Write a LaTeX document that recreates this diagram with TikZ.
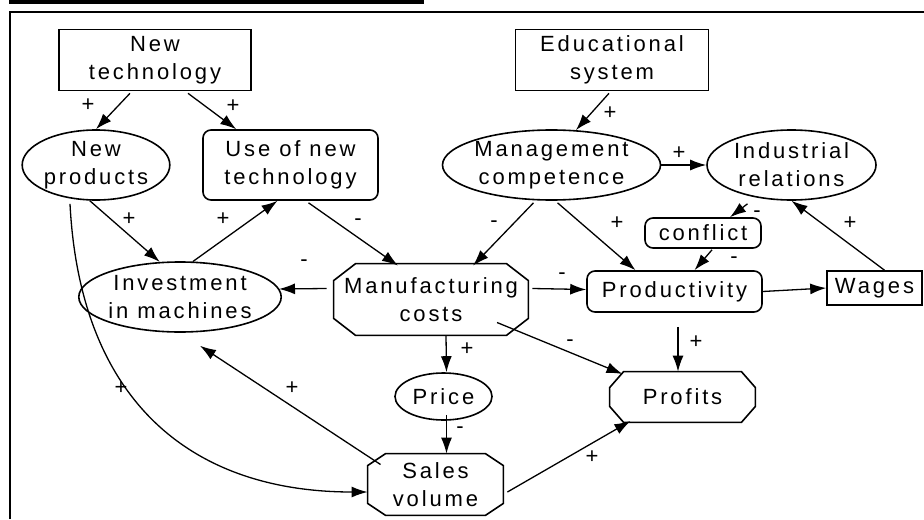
\documentclass[tikz,border=0pt]{standalone}
\usepackage{fontspec}
\setmainfont{Liberation Sans}[LetterSpace=13]
\usetikzlibrary{arrows.meta,shapes.geometric,calc}

\begin{document}
\begin{tikzpicture}
[x=.5pt,y=-.5pt,
every node/.style={font=\fontsize{11}{14}\selectfont,align=center,inner sep=0pt},
ext/.style={shape=rectangle,draw,line width=.8pt},
act/.style={shape=rectangle,draw,line width=.8pt,rounded corners=4pt},
var/.style={shape=ellipse,draw,line width=.8pt},
oct/.style={shape=rectangle},
octline/.style={line width=.8pt,line join=miter},
infl/.style={line width=.65pt,-{Latex[length=8pt,width=5.5pt]}},
sgn/.style={inner sep=0pt}]
\useasboundingbox (0,0) rectangle (924,519);
%%
% frame
%%
\fill (9,0) rectangle (424,4.5);
\draw[line width=1pt] (10,519) -- (10,12) -- (924,12);
%%
% factors
%%
\node[ext,minimum width=96pt,minimum height=30.5pt] (nt) at (155,60) {New\\technology};
\node[ext,minimum width=96.5pt,minimum height=30.5pt] (edu) at (612,60) {Educational\\system};
\node[var,minimum width=73pt,minimum height=35pt] (np) at (96,165) {New\\products};
\node[act,minimum width=87.5pt,minimum height=35pt] (unt) at (290.5,165) {Use of new\\technology};
\node[var,minimum width=108.5pt,minimum height=35pt] (mc) at (551.5,165) {Management\\competence};
\node[var,minimum width=84.5pt,minimum height=35pt] (ir) at (791.5,165) {Industrial\\relations};
\node[act,minimum width=58pt,minimum height=15pt] (cf) at (703,233) {conflict};
\node[var,minimum width=96.5pt,minimum height=35pt] (im) at (180,297) {Investment\\in machines};
\node[oct,minimum width=97pt,minimum height=35.5pt] (mfc) at (431,299.5) {Manufacturing\\costs};
\node[act,minimum width=87.5pt,minimum height=20.5pt] (pr) at (674.5,291.5) {Productivity};
\node[ext,minimum width=47.5pt,minimum height=17pt] (wg) at (874.5,288) {Wages};
\node[var,minimum width=48.5pt,minimum height=23.5pt] (price) at (443.5,396.5) {Price};
\node[oct,minimum width=72.5pt,minimum height=25pt] (pf) at (682.5,397) {Profits};
\node[oct,minimum width=67.5pt,minimum height=30.5pt] (sv) at (435.5,484.5) {Sales\\volume};
% octagon outlines, cut by cx/cy
\foreach \n/\cx/\cy in {mfc/22/17,pf/14/16,sv/18/12}
  \draw[octline] ($(\n.north west)+(\cx,0)$) -- ($(\n.north east)+(-\cx,0)$)
    -- ($(\n.north east)+(0,\cy)$) -- ($(\n.south east)+(0,-\cy)$)
    -- ($(\n.south east)+(-\cx,0)$) -- ($(\n.south west)+(\cx,0)$)
    -- ($(\n.south west)+(0,-\cy)$) -- ($(\n.north west)+(0,\cy)$) -- cycle;
%%
% influences
%%
\draw[infl] ($(nt.south)+(-25,2)$) -- (np.north);
\draw[infl] ($(nt.south)+(33,2)$) -- ($(unt.north west)+(34,0)$);
\draw[infl] ($(edu.south)+(-3,2)$) -- (mc.55);
\draw[infl] (np.260) -- (im.120);
\draw[infl] (im.70) -- ($(unt.south)+(-13,0)$);
\draw[infl] ($(unt.south)+(18,2)$) -- ($(mfc.north)+(-33,2)$);
\draw[infl] (mc.east) -- (ir.west);
\draw[infl] ($(mc.south)+(-18,2)$) -- ($(mfc.north)+(42,2)$);
\draw[infl] ($(mc.south)+(6,2)$) -- ($(pr.north)+(-39,0)$);
\draw[infl] ($(ir.south)+(-44,3)$) -- ($(cf.north)+(27,0)$);
\draw[infl] ($(cf.south)+(9,1)$) -- ($(pr.north)+(20,0)$);
\draw[infl] ($(wg.north)+(10,0)$) -- (ir.south);
\draw[infl] ($(mfc.west)+(-7,-11)$) -- ($(im.east)+(-3,-8)$);
\draw[infl] ($(mfc.east)+(4,-11)$) -- ($(pr.west)+(0,-2)$);
\draw[infl] (pr.east) -- (wg.west);
\draw[infl] ($(mfc.south)+(15,0)$) -- ($(price.north)+(3,0)$);
\draw[infl] ($(mfc.center)+(66,23)$) -- ($(pf.center)+(-60,-23)$);
\draw[infl] ($(pr.south)+(3.5,14)$) -- ($(pf.north)+(-4.5,0)$);
\draw[infl] ($(price.south)+(3,-6)$) -- ($(sv.north)+(11,0)$);
\draw[infl] ($(sv.center)+(-55,-20)$) -- ($(im.south)+(20,13)$);
\draw[infl] ($(np.south)+(-26,3)$) .. controls (80,400) and (190,492) .. ($(sv.west)+(0,7.5)$);
\draw[infl] ($(sv.east)+(4,7.5)$) -- ($(pf.center)+(-52,24)$);
%%
% signs
%%
\foreach \x/\y/\s [count=\i] in {88/105/+,233/106/+,129/219/+,223/219/+,358/222/-,
  610/113/+,679/153/+,494/224/-,617/223/+,757/214/-,734/260/-,850/223/+,
  304/263/-,562/276/-,467/349/+,570/343/-,696/342/+,460/430/-,
  292/388/+,121/388/+,592/457/+}
  \node[sgn] (s\i) at (\x,\y) {\s};
\end{tikzpicture}
\end{document}
